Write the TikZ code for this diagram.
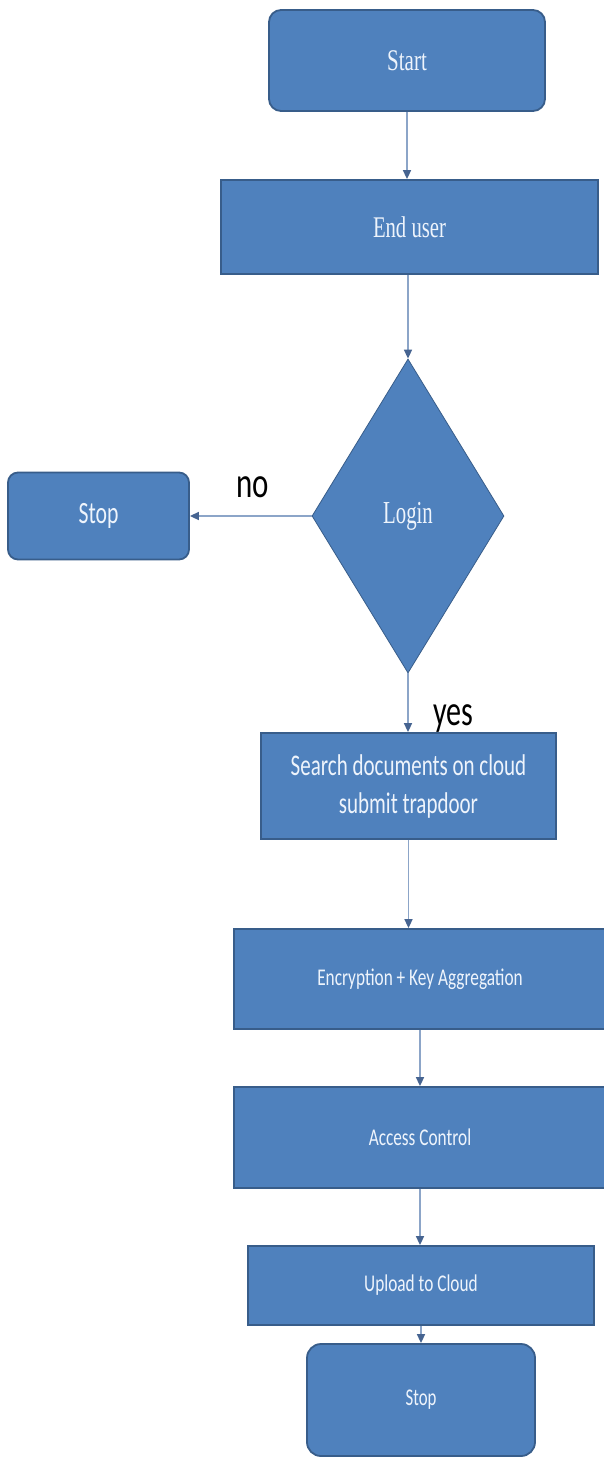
\documentclass[tikz,border=0pt]{standalone}
\usepackage{fontspec}
\setmainfont{Liberation Serif}
\newfontfamily\calfont{Carlito}
\usetikzlibrary{shapes.geometric,arrows.meta}
\definecolor{boxfill}{RGB}{79,129,189}
\definecolor{boxdraw}{RGB}{56,93,138}
\definecolor{arrline}{RGB}{140,165,200}
\definecolor{arrtip}{RGB}{70,100,145}
\definecolor{txt}{RGB}{238,244,252}
\newcommand{\sx}[2]{\scalebox{#1}[1]{#2}}
\begin{document}
\begin{tikzpicture}[x=1pt,y=-1pt,
  box/.style={draw=boxdraw,line width=1.8pt,fill=boxfill,text=txt,inner sep=0pt},
  rbox/.style={box,rounded corners=12pt},
  flow/.style={draw=arrline,line width=1.6pt,-{Triangle[length=9pt,width=8pt,color=arrtip]}},
  lbl/.style={text=black,inner sep=0pt,anchor=base,font={\calfont\fontsize{43}{50}\selectfont}}]
\useasboundingbox (0,0) rectangle (603,1459);
\fill[white] (0,0) rectangle (603,1459);

\node[rbox,minimum width=276pt,minimum height=101pt,font={\fontsize{30}{36}\selectfont}] (start) at (407,60.5) {\sx{0.7}{Start}};
\node[box,minimum width=377pt,minimum height=94pt,font={\fontsize{30}{36}\selectfont}] (user) at (409.5,227) {\sx{0.69}{End user}};
\node[box,diamond,line width=0.8pt,minimum width=192pt,minimum height=314pt,font={\fontsize{32}{38}\selectfont}] (login) at (408,516) {\sx{0.65}{Login}};
\node[rbox,rounded corners=10pt,minimum width=181pt,minimum height=87pt,font={\calfont\fontsize{31}{37}\selectfont}] (stopL) at (98.5,516) {\sx{0.7}{Stop}};
\node[box,minimum width=295pt,minimum height=106pt,align=center,font={\calfont\fontsize{30}{38}\selectfont}] (search) at (408.5,786) {\sx{0.7}{Search documents on cloud}\\\sx{0.7}{submit trapdoor}};
\node[box,minimum width=372pt,minimum height=100pt,font={\calfont\fontsize{24}{29}\selectfont}] (enc) at (420,979) {\sx{0.72}{Encryption + Key Aggregation}};
\node[box,minimum width=372pt,minimum height=101pt,font={\calfont\fontsize{24}{29}\selectfont}] (access) at (420,1137.5) {\sx{0.72}{Access Control}};
\node[box,minimum width=346pt,minimum height=79pt,font={\calfont\fontsize{24}{29}\selectfont}] (upload) at (421,1285.5) {\sx{0.72}{Upload to Cloud}};
\node[rbox,rounded corners=14pt,minimum width=228pt,minimum height=112pt,font={\calfont\fontsize{24}{29}\selectfont}] (stopB) at (421,1400) {\sx{0.7}{Stop}};

\draw[flow] (start.south) -- (start.south |- user.north);
\draw[flow] (login.north |- user.south) -- (login.north);
\draw[flow] (login.west) -- (login.west -| stopL.east);
\draw[flow] (login.south) -- (login.south |- search.north);
\draw[flow] (search.south) -- (search.south |- enc.north);
\draw[flow] (enc.south) -- (access.north);
\draw[flow] (access.south) -- (access.south |- upload.north);
\draw[flow] (upload.south) -- (stopB.north);

\node[lbl] (no) at (253,497) {\sx{0.72}{no}};
\node[lbl] (yes) at (453,725) {\sx{0.7}{yes}};
\end{tikzpicture}
\end{document}
